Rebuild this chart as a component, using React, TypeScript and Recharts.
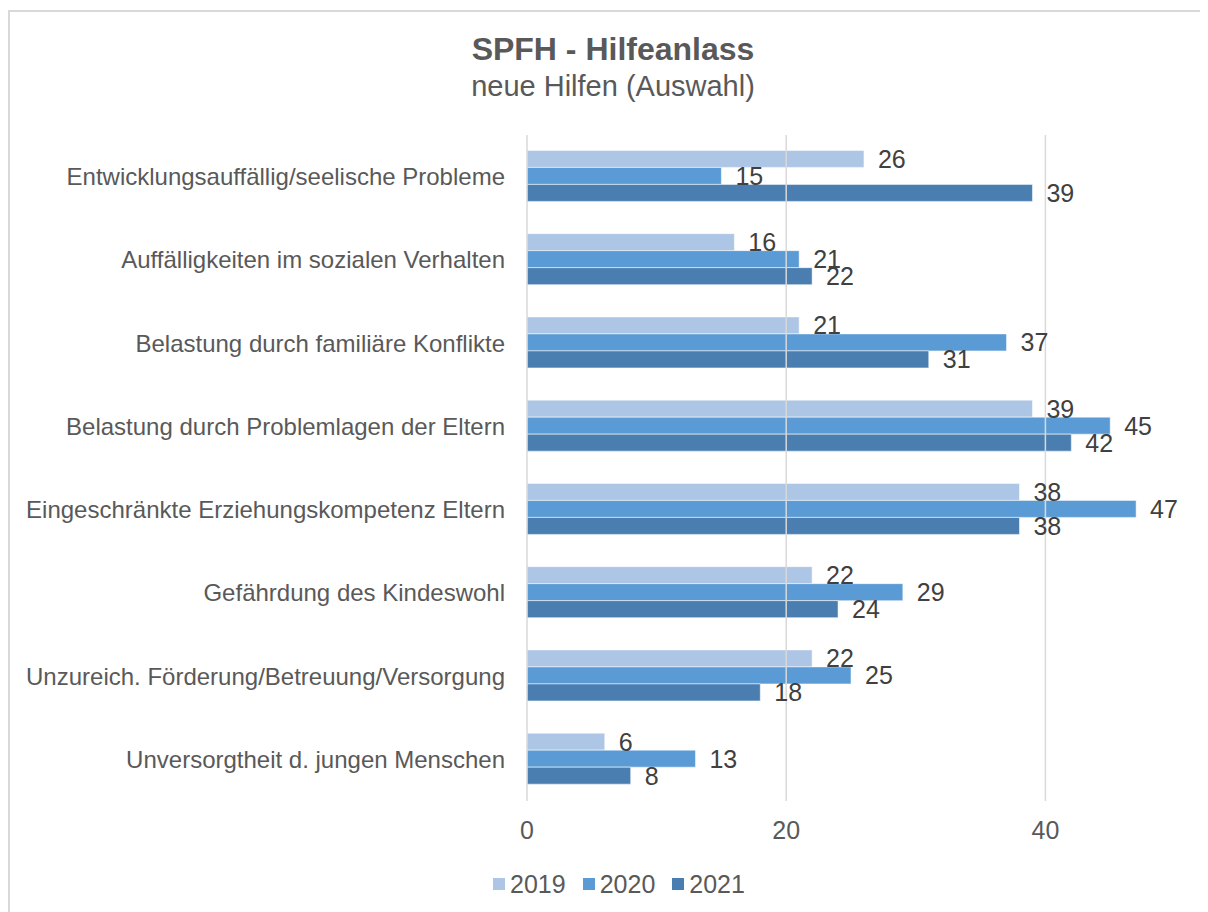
import React from 'react'
import { BarChart, Bar, XAxis, YAxis, ReferenceLine, LabelList } from 'recharts'

const categories = [
  'Entwicklungsauffällig/seelische Probleme',
  'Auffälligkeiten im sozialen Verhalten',
  'Belastung durch familiäre Konflikte',
  'Belastung durch Problemlagen der Eltern',
  'Eingeschränkte Erziehungskompetenz Eltern',
  'Gefährdung des Kindeswohl',
  'Unzureich. Förderung/Betreuung/Versorgung',
  'Unversorgtheit d. jungen Menschen',
]

const values2019 = [26, 16, 21, 39, 38, 22, 22, 6]
const values2020 = [15, 21, 37, 45, 47, 29, 25, 13]
const values2021 = [39, 22, 31, 42, 38, 24, 18, 8]

const xTicks = [0, 20, 40]

const SERIES = [
  { key: 'y2019', name: '2019', color: '#adc6e5' },
  { key: 'y2020', name: '2020', color: '#5b9bd5' },
  { key: 'y2021', name: '2021', color: '#4a7eb1' },
]

const FONT = '"Liberation Sans", Arial, sans-serif'

const data = categories.map((name, i) => ({
  name,
  y2019: values2019[i],
  y2020: values2020[i],
  y2021: values2021[i],
}))

const CategoryTick = ({ x, y, payload }: any) => (
  <text
    x={x - 14}
    y={y}
    textAnchor="end"
    dominantBaseline="central"
    fontSize={24}
    fill="#595959"
    fontFamily={FONT}
  >
    {payload.value}
  </text>
)

export default function App() {
  return (
    <div
      style={{
        position: 'relative',
        marginTop: 2,
        width: 1210,
        height: 912,
        border: '2px solid #d9d9d9',
        boxSizing: 'border-box',
        background: '#fff',
        fontFamily: FONT,
        overflow: 'hidden',
      }}
    >
      <div
        style={{
          position: 'absolute',
          top: 18,
          left: 0,
          width: 1206,
          textAlign: 'center',
          color: '#595959',
        }}
      >
        <div style={{ fontSize: 32, fontWeight: 'bold', lineHeight: '38px' }}>SPFH - Hilfeanlass</div>
        <div style={{ fontSize: 29, lineHeight: '36px' }}>neue Hilfen (Auswahl)</div>
      </div>
      <div style={{ position: 'absolute', top: 0, left: 0 }}>
        <BarChart
          width={1196}
          height={898}
          data={data}
          layout="vertical"
          margin={{ top: 123, right: 31, bottom: 69, left: 0 }}
          barCategoryGap="18.5%"
          barGap={0}
        >
          {xTicks.map((t) => (
            <ReferenceLine key={t} x={t} stroke="#d9d9d9" strokeWidth={1.5} />
          ))}
          <XAxis
            type="number"
            domain={[0, 50]}
            ticks={xTicks}
            axisLine={false}
            tickLine={false}
            tickSize={0}
            tickMargin={20}
            height={40}
            tick={{ fontSize: 25, fill: '#595959', fontFamily: FONT }}
          />
          <YAxis
            type="category"
            dataKey="name"
            width={517}
            axisLine={false}
            tickLine={false}
            tick={<CategoryTick />}
          />
          {SERIES.map((s) => (
            <Bar
              key={s.key}
              dataKey={s.key}
              name={s.name}
              fill={s.color}
              stroke="#ffffff"
              strokeWidth={0.5}
              isAnimationActive={false}
            >
              <LabelList
                dataKey={s.key}
                position="right"
                offset={14}
                fontSize={25}
                fill="#404040"
                fontFamily={FONT}
              />
            </Bar>
          ))}
        </BarChart>
      </div>
      <div
        style={{
          position: 'absolute',
          top: 857,
          left: 0,
          width: 1206,
          display: 'flex',
          justifyContent: 'center',
          gap: 17,
          paddingLeft: 12,
          boxSizing: 'border-box',
          fontSize: 25,
          lineHeight: '30px',
          color: '#595959',
        }}
      >
        {SERIES.map((s) => (
          <div key={s.key} style={{ display: 'flex', alignItems: 'center' }}>
            <span style={{ width: 12, height: 12, background: s.color, marginRight: 5, display: 'inline-block' }} />
            <span>{s.name}</span>
          </div>
        ))}
      </div>
    </div>
  )
}
